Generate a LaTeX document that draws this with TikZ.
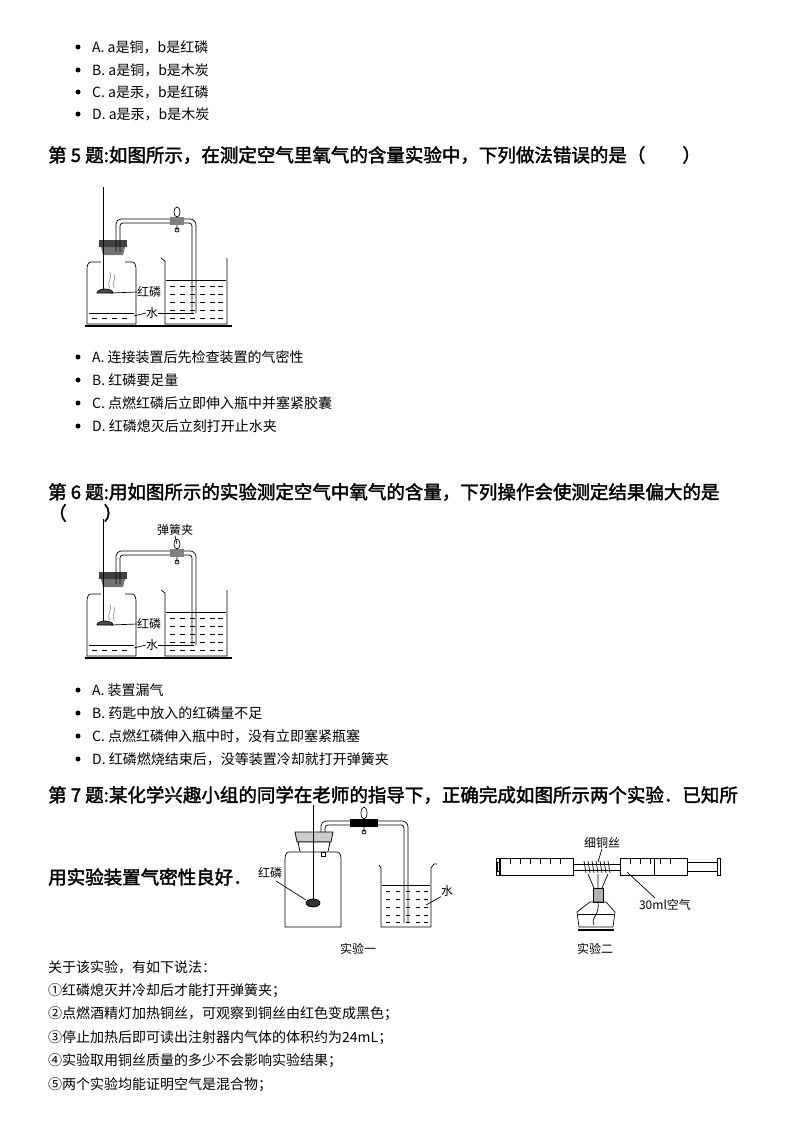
\documentclass[tikz,border=0pt]{standalone}
\usepackage{fontspec}
\setmainfont{Noto Sans CJK SC}[AutoFakeBold=2]
\begin{document}
\begin{tikzpicture}[x=1pt,y=-1pt,
  body/.style={anchor=west,inner sep=0pt,font=\fontsize{14}{16}\selectfont},
  ttl/.style={anchor=west,inner sep=0pt,font=\fontsize{18.5}{20}\selectfont\bfseries},
  lab/.style={inner sep=0pt,font=\fontsize{12}{13}\selectfont},
  bul/.style={circle,fill=black,inner sep=0pt,minimum size=5pt},
  ln/.style={line width=0.7pt},
  thick2/.style={line width=1.4pt}]
\useasboundingbox (0,0) rectangle (800,1132);
% bullets block 1
\foreach \y/\t [count=\i] in {47/{A. a是铜，b是红磷},70/{B. a是铜，b是木炭},92/{C. a是汞，b是红磷},114/{D. a是汞，b是木炭}}{
  \node[bul] (b1\i) at (78,\y) {};
  \node[body] (t1\i) at (92,\y) {\t};}
\node[ttl] (q5) at (48,155) {第 5 题:如图所示，在测定空气里氧气的含量实验中，下列做法错误的是（　　）};
% apparatus
\foreach \dy/\k in {0/5,332/6}{
\begin{scope}[shift={(0,\dy)}]
  \draw[thick2] (85,326) -- (232,326);
  % jar
  \draw[ln] (101,262) -- (91,262) to[out=180,in=90] (87,270) -- (87,324) -- (136,324) -- (136,270) to[out=90,in=0] (132,262) -- (125,262);
  \fill[black!75] (99,240) rectangle (127,247);
  \fill[black!55] (101,247) -- (125,247) -- (123,255) -- (103,255) -- cycle;
  \draw[ln] (89,313) -- (134,313);
  \foreach \x in {92,102,112,122}{\draw[ln] (\x,318) -- (\x+5,318);}
  % rod and spoon
  \draw[ln] (103,187) -- (103,293);
  \draw[ln,fill=black!70] (97,293) arc[start angle=180,end angle=360,x radius=8,y radius=4] -- cycle;
  \draw[black!40,ln] (110,288) .. controls (106,282) and (113,278) .. (110,272);
  \draw[black!40,ln] (114,288) .. controls (111,282) and (117,279) .. (114,275);
  % tube
  \draw[ln] (116,252) -- (116,224) to[out=90,in=180] (121,219) -- (190,219) to[out=0,in=90] (196,225) -- (196,313);
  \draw[ln] (120,252) -- (120,226) to[out=90,in=180] (123,223) -- (189,223) to[out=0,in=90] (192,226) -- (192,313);
  \fill[gray] (170,217) rectangle (184,225);
  \draw[ln] (177,212) ellipse (3 and 5);
  \draw[ln] (177,225) -- (177,230) circle (2);
  % beaker
  \draw[ln] (161,258) -- (165,261) -- (165,324) -- (227,324) -- (227,258);
  \draw[ln] (166,280) -- (226,280);
  \foreach \yy in {286,294,302,310,318}{\foreach \x in {170,180,190,200,210,218}{\draw[ln] (\x,\yy) -- (\x+5,\yy);}}
  % labels
  \node[lab,anchor=west] (hl\k) at (137,292) {红磷};
  \draw[ln] (111,293) -- (hl\k.west);
  \node[lab,anchor=west] (sh\k) at (146,313) {水};
  \draw[ln] (sh\k.east) -- (194,313);
  \draw[ln] (sh\k.west) -- (134,316);
\end{scope}}
\node[lab] (tz) at (175,530) {弹簧夹};
\draw[ln] (tz.south) -- (177,544);
\foreach \y/\t [count=\i] in {357/{A. 连接装置后先检查装置的气密性},380/{B. 红磷要足量},403/{C. 点燃红磷后立即伸入瓶中并塞紧胶囊},426/{D. 红磷熄灭后立刻打开止水夹}}{
  \node[bul] (b2\i) at (78,\y) {};
  \node[body] (t2\i) at (92,\y) {\t};}
\node[ttl] (q6) at (48,492) {第 6 题:用如图所示的实验测定空气中氧气的含量，下列操作会使测定结果偏大的是};
\node[ttl] (q6b) at (48,513) {（　　）};
\foreach \y/\t [count=\i] in {690/{A. 装置漏气},713/{B. 药匙中放入的红磷量不足},736/{C. 点燃红磷伸入瓶中时，没有立即塞紧瓶塞},759/{D. 红磷燃烧结束后，没等装置冷却就打开弹簧夹}}{
  \node[bul] (b3\i) at (78,\y) {};
  \node[body] (t3\i) at (92,\y) {\t};}
\node[ttl] (q7) at (48,795) {第 7 题:某化学兴趣小组的同学在老师的指导下，正确完成如图所示两个实验．已知所};
\node[ttl] (q7b) at (48,877) {用实验装置气密性良好．};
% experiment 1
\draw[ln] (299,852) -- (289,852) to[out=180,in=90] (285,860) -- (285,927) -- (341,927) -- (341,860) to[out=90,in=0] (337,852) -- (329,852);
\draw[ln,fill=black!20] (295,832) -- (333,832) -- (331,842) -- (297,842) -- cycle;
\draw[ln,fill=white] (298,842) -- (330,842) -- (328,852) -- (300,852) -- cycle;
\draw[ln] (321,852) rectangle (325,856);
\draw[ln] (313,805) -- (313,900);
\draw[ln,fill=black!80] (313,903) ellipse (7 and 4);
\draw[ln] (321,832) -- (321,826) to[out=90,in=180] (326,821) -- (402,821) to[out=0,in=90] (408,827) -- (408,923);
\draw[ln] (325,832) -- (325,828) to[out=90,in=180] (328,825) -- (401,825) to[out=0,in=90] (404,828) -- (404,923);
\fill[black] (350,819) rectangle (378,827);
\draw[ln] (364,813) ellipse (3 and 6);
\draw[ln] (364,827) -- (364,832) circle (2);
\draw[ln] (379,865) -- (381,868) -- (381,927) -- (431,927) -- (431,868) -- (434,864) -- (437,864);
\draw[ln] (382,885) -- (430,885);
\foreach \yy in {891,899,907,915,922}{\foreach \x in {386,396,406,416,424}{\draw[ln] (\x,\yy) -- (\x+4,\yy);}}
\node[lab] (hl7) at (270,873) {红磷};
\draw[ln] (276,881) -- (306,900);
\node[lab] (sh7) at (447,891) {水};
\draw[ln] (sh7.south west) -- (426,905);
\node[lab] (e1) at (358,949) {实验一};
% experiment 2
\draw[ln] (500,858) rectangle (573,875);
\draw[ln] (500,862) -- (497,862) -- (497,871) -- (500,871);
\draw[ln] (496,858) rectangle (499,875);
\foreach \x in {510,520,530,540,550,560}{\draw[ln] (\x,858) -- (\x,864);}
\draw[ln] (573,864) -- (620,864) (573,870) -- (620,870);
\foreach \x in {584,588,...,610}{\draw[ln] (\x,861) -- (\x+2,873);}
\draw[ln] (620,858) rectangle (687,875);
\foreach \x in {630,640,650,660,670}{\draw[ln] (\x,858) -- (\x,864);}
\draw[ln] (654,858) -- (654,875);
\draw[ln] (687,862) -- (717,862) -- (717,871) -- (687,871);
\draw[ln] (717,858) rectangle (720,875);
\draw[ln] (588,874) -- (594,888) (598,874) -- (598,888) (608,874) -- (602,888);
\draw[ln,fill=black!30] (593,888) rectangle (603,902);
\draw[ln] (590,902) -- (606,902) -- (615,912) -- (613,927) -- (579,927) -- (577,912) -- cycle;
\draw[ln] (578,914) -- (614,914);
\draw[ln] (598,902) .. controls (600,915) and (590,918) .. (594,925);
\draw[thick2] (578,930) -- (614,930);
\node[lab] (cu) at (602,843) {细铜丝};
\draw[ln] (cu.south) -- (598,862);
\node[lab] (air) at (665,905) {30ml空气};
\draw[ln] (627,872) -- (655,898);
\node[lab] (e2) at (595,949) {实验二};
% statements
\foreach \y/\t [count=\i] in {967/{关于该实验，有如下说法：},991/{①红磷熄灭并冷却后才能打开弹簧夹；},1014/{②点燃酒精灯加热铜丝，可观察到铜丝由红色变成黑色；},1038/{③停止加热后即可读出注射器内气体的体积约为24mL；},1061/{④实验取用铜丝质量的多少不会影响实验结果；},1085/{⑤两个实验均能证明空气是混合物；}}{
  \node[body] (s\i) at (48,\y) {\t};}
\end{tikzpicture}
\end{document}
